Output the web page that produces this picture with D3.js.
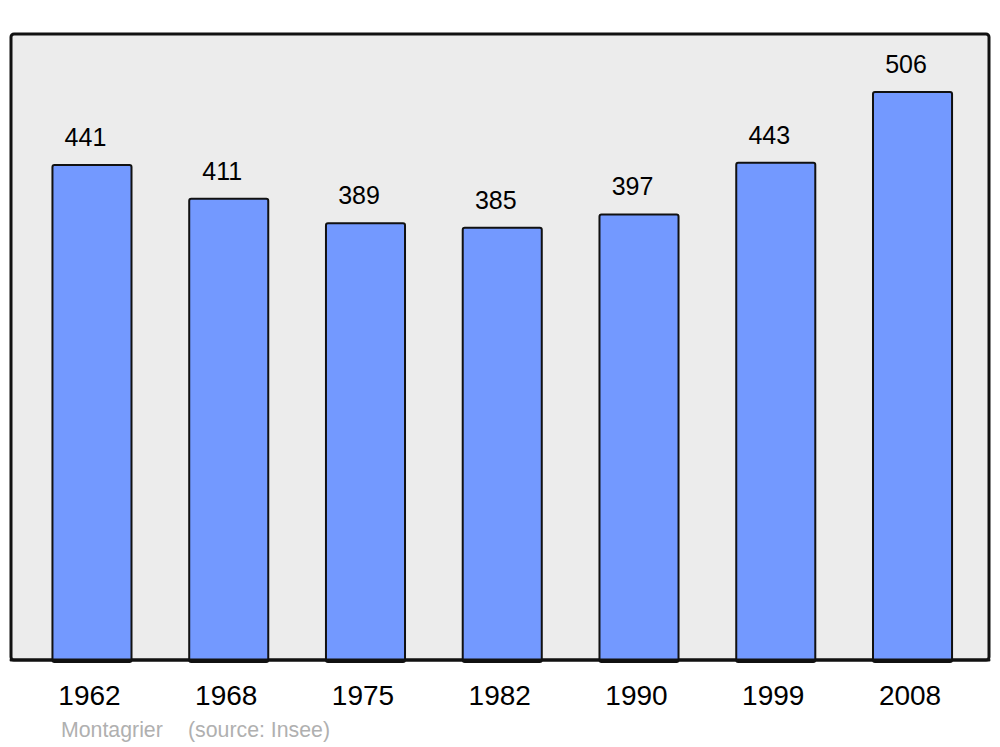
<!DOCTYPE html>
<html><head><meta charset="utf-8">
<script src="https://cdn.jsdelivr.net/npm/d3@7"></script>
<style>body{margin:0;background:#fff}svg{display:block}</style>
</head><body>
<script>
const years = ["1962","1968","1975","1982","1990","1999","2008"];
const population = [441,411,389,385,397,443,506];
const footerName = "Montagrier";
const footerSource = "(source: Insee)";

const W = 1000, H = 747;
const svg = d3.select("body").append("svg").attr("width", W).attr("height", H);
const font = "'Liberation Sans', Arial, sans-serif";

const frame = {x0: 11, y0: 34, x1: 989, y1: 660};
svg.append("rect").attr("x", frame.x0).attr("y", frame.y0)
  .attr("width", frame.x1 - frame.x0).attr("height", frame.y1 - frame.y0)
  .attr("rx", 3).attr("fill", "#ececec").attr("stroke", "#111").attr("stroke-width", 3);

const x = d3.scaleBand().domain(years).range([23.6, 980.9]).paddingInner(0.422).paddingOuter(0.211);
const y = d3.scaleLinear().domain([0, 557.7]).range([frame.y1, frame.y0]);

svg.append("g").selectAll("rect").data(years).join("rect")
  .attr("x", d => x(d)).attr("y", (d,i) => y(population[i]))
  .attr("width", x.bandwidth()).attr("height", (d,i) => y(0) - y(population[i]) + 2)
  .attr("rx", 2).attr("fill", "#7399ff").attr("stroke", "#111").attr("stroke-width", 2);

// redraw frame bottom line over bars
svg.append("line").attr("x1", frame.x0).attr("x2", frame.x1).attr("y1", frame.y1).attr("y2", frame.y1)
  .attr("stroke", "#111").attr("stroke-width", 3).attr("stroke-linecap", "round");

svg.append("g").selectAll("text").data(years).join("text")
  .attr("x", d => x(d) + x.bandwidth()/2 - 6.5).attr("y", (d,i) => y(population[i]) - 19)
  .attr("text-anchor", "middle").attr("font-family", font).attr("font-size", 25).attr("fill", "#000")
  .text((d,i) => population[i]);

const xAxis = d3.axisBottom(x).tickSize(0).tickPadding(0);
const ax = svg.append("g").attr("transform", `translate(-2.5,${frame.y1})`).call(xAxis);
ax.select(".domain").remove();
ax.selectAll("text").attr("y", 45.3).attr("dy", null).attr("font-family", font).attr("font-size", 28).attr("fill", "#000");

svg.append("text").attr("x", 61).attr("y", 737).attr("font-family", font).attr("font-size", 21.3)
  .attr("fill", "#b0b0b0").text(footerName);
svg.append("text").attr("x", 188).attr("y", 737).attr("font-family", font).attr("font-size", 21.3)
  .attr("fill", "#b0b0b0").text(footerSource);
</script>
</body></html>
